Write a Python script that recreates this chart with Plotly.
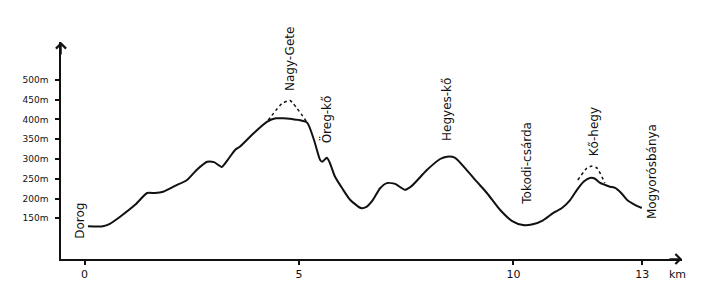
import plotly.graph_objects as go

# Elevation profile (km, m)
profile_km = [0.08, 0.43, 0.59, 0.83, 1.18, 1.46, 1.64, 1.83, 2.11, 2.39, 2.62, 2.86, 3.02, 3.2, 3.34,
              3.51, 3.62, 3.95, 4.25, 4.46, 4.63, 4.84, 4.98, 5.19, 5.35, 5.49, 5.54, 5.65, 5.72, 5.84,
              6.03, 6.19, 6.44, 6.56, 6.72, 6.89, 7.05, 7.24, 7.47, 7.63, 7.98, 8.29, 8.45, 8.64, 8.91,
              9.15, 9.38, 9.69, 9.97, 10.22, 10.45, 10.69, 10.92, 11.13, 11.32, 11.48, 11.64, 11.78,
              11.90, 12.01, 12.25, 12.37, 12.51, 12.65, 12.83, 12.99]
profile_m = [130, 130, 136, 154, 184, 214, 214, 217, 232, 247, 273, 293, 292, 280, 298,
             323, 331, 366, 394, 403, 403, 401, 399, 392, 348, 298, 293, 303, 290, 255,
             222, 197, 176, 178, 196, 226, 239, 237, 222, 232, 272, 300, 306, 303, 272,
             242, 214, 171, 143, 133, 135, 145, 163, 176, 196, 222, 243, 252,
             250, 240, 230, 227, 214, 196, 184, 176]

# Former summits (dotted)
nagygete_km = [4.28, 4.6, 4.79, 5.19]
nagygete_m = [398, 440, 448, 392]
kohegy_km = [11.5, 11.71, 11.83, 11.95, 12.13]
kohegy_m = [247, 277, 282, 277, 239]

# Place names
place_names = ["Dorog", "Nagy-Gete", "Öreg-kő", "Hegyes-kő", "Tokodi-csárda", "Kő-hegy", "Mogyorósbánya"]
place_km = [-0.11, 4.79, 5.65, 8.45, 10.31, 11.88, 13.23]
place_m = [143, 553, 400, 424, 290, 368, 267]

# Axis ticks
x_ticks = [0, 5, 10, 13]
x_ticklabels = ["0", "5", "10", "13"]
y_ticks = [150, 200, 250, 300, 350, 400, 450, 500]
y_ticklabels = ["150m", "200m", "250m", "300m", "350m", "400m", "450m", "500m"]

ink = "#111111"
font = "DejaVu Sans"

fig = go.Figure()
fig.add_trace(go.Scatter(x=profile_km, y=profile_m, mode="lines",
                         line=dict(color=ink, width=2, shape="spline", smoothing=0.6),
                         hoverinfo="skip", showlegend=False))
for xs, ys in [(nagygete_km, nagygete_m), (kohegy_km, kohegy_m)]:
    fig.add_trace(go.Scatter(x=xs, y=ys, mode="lines",
                             line=dict(color=ink, width=1.5, dash="dot", shape="spline", smoothing=0.5),
                             hoverinfo="skip", showlegend=False))

for name, xk, ym in zip(place_names, place_km, place_m):
    fig.add_annotation(x=xk, y=ym, xref="x", yref="y", text=name, showarrow=False,
                       textangle=-90, font=dict(family=font, size=12, color=ink))

# km unit label
fig.add_annotation(x=13.83, y=0, xref="x", yref="paper", yanchor="top", yshift=-7,
                   text="km", showarrow=False, font=dict(family=font, size=11, color=ink))

# arrowheads on axes
fig.add_annotation(x=1, y=0, xref="paper", yref="paper", ax=-14, ay=0, text="",
                   showarrow=True, arrowhead=4, arrowsize=1.3, arrowwidth=1.5, arrowcolor=ink)
fig.add_annotation(x=0, y=1, xref="paper", yref="paper", ax=0, ay=14, text="",
                   showarrow=True, arrowhead=4, arrowsize=1.3, arrowwidth=1.5, arrowcolor=ink)

fig.update_xaxes(range=[-0.548, 13.928], showgrid=False, zeroline=False,
                 showline=True, linecolor=ink, linewidth=1.5,
                 tickmode="array", tickvals=x_ticks, ticktext=x_ticklabels,
                 ticks="outside", ticklen=4, tickcolor=ink, tickwidth=1.5,
                 tickfont=dict(family=font, size=11, color=ink))
fig.update_yaxes(range=[47, 596], showgrid=False, zeroline=False,
                 showline=True, linecolor=ink, linewidth=1.5,
                 tickmode="array", tickvals=y_ticks, ticktext=y_ticklabels,
                 ticks="outside", ticklen=4, tickcolor=ink, tickwidth=1.5,
                 ticklabelstandoff=5,
                 tickfont=dict(family=font, size=9, color=ink))

fig.update_layout(width=704, height=298, margin=dict(l=61, r=22, t=42, b=39),
                  plot_bgcolor="white", paper_bgcolor="white")

fig.write_html("out.html")
